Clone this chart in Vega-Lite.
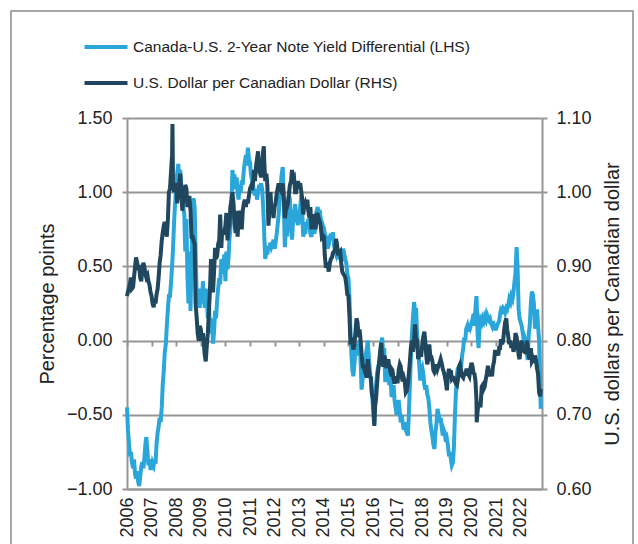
{
"$schema":"https://vega.github.io/schema/vega-lite/v6.json",
"width":415,"height":371,
"autosize":"none",
"padding":{"left":127,"top":118,"right":96,"bottom":55},
"background":"white",
"config":{"font":"Liberation Sans","view":{"stroke":null}},
"data":{"values":[
{"d":"2006-01-01","b":-0.45,"n":0.860},{"d":"2006-01-15","b":-0.60,"n":0.866},{"d":"2006-02-01","b":-0.70,"n":0.872},{"d":"2006-02-15","b":-0.78,"n":0.878},{"d":"2006-03-01","b":-0.75,"n":0.885},{"d":"2006-03-15","b":-0.82,"n":0.870},{"d":"2006-04-01","b":-0.86,"n":0.872},{"d":"2006-04-15","b":-0.80,"n":0.885},{"d":"2006-05-01","b":-0.90,"n":0.900},{"d":"2006-05-15","b":-0.93,"n":0.912},{"d":"2006-06-01","b":-0.88,"n":0.905},{"d":"2006-06-15","b":-0.95,"n":0.895},{"d":"2006-07-01","b":-0.98,"n":0.902},{"d":"2006-07-15","b":-0.92,"n":0.885},{"d":"2006-08-01","b":-0.85,"n":0.880},{"d":"2006-08-15","b":-0.82,"n":0.895},{"d":"2006-09-01","b":-0.86,"n":0.905},{"d":"2006-09-15","b":-0.80,"n":0.900},{"d":"2006-10-01","b":-0.70,"n":0.890},{"d":"2006-10-15","b":-0.65,"n":0.885},{"d":"2006-11-01","b":-0.75,"n":0.888},{"d":"2006-11-15","b":-0.84,"n":0.880},{"d":"2006-12-01","b":-0.80,"n":0.875},{"d":"2006-12-15","b":-0.86,"n":0.866},
{"d":"2007-01-01","b":-0.86,"n":0.860},{"d":"2007-01-15","b":-0.82,"n":0.850},{"d":"2007-02-01","b":-0.84,"n":0.845},{"d":"2007-02-15","b":-0.80,"n":0.855},{"d":"2007-03-01","b":-0.83,"n":0.850},{"d":"2007-03-15","b":-0.70,"n":0.862},{"d":"2007-04-01","b":-0.62,"n":0.870},{"d":"2007-04-15","b":-0.58,"n":0.885},{"d":"2007-05-01","b":-0.52,"n":0.905},{"d":"2007-05-15","b":-0.55,"n":0.915},{"d":"2007-06-01","b":-0.45,"n":0.935},{"d":"2007-06-15","b":-0.30,"n":0.945},{"d":"2007-07-01","b":-0.20,"n":0.955},{"d":"2007-07-15","b":-0.08,"n":0.960},{"d":"2007-08-01","b":-0.02,"n":0.950},{"d":"2007-08-15","b":0.10,"n":0.940},{"d":"2007-09-01","b":0.22,"n":0.965},{"d":"2007-09-15","b":0.30,"n":1.000},{"d":"2007-10-01","b":0.30,"n":1.005},{"d":"2007-10-15","b":0.38,"n":1.025},{"d":"2007-11-01","b":0.50,"n":1.050},{"d":"2007-11-07","b":0.55,"n":1.092},{"d":"2007-11-15","b":0.62,"n":1.010},{"d":"2007-12-01","b":0.80,"n":1.000},{"d":"2007-12-15","b":0.92,"n":1.010},
{"d":"2008-01-01","b":1.02,"n":1.010},{"d":"2008-01-15","b":1.12,"n":0.985},{"d":"2008-02-01","b":1.19,"n":1.000},{"d":"2008-02-15","b":1.10,"n":1.010},{"d":"2008-03-01","b":1.15,"n":1.025},{"d":"2008-03-15","b":1.05,"n":1.005},{"d":"2008-04-01","b":0.98,"n":0.975},{"d":"2008-04-15","b":0.90,"n":0.990},{"d":"2008-05-01","b":0.85,"n":0.990},{"d":"2008-05-15","b":0.60,"n":1.010},{"d":"2008-06-01","b":0.82,"n":1.005},{"d":"2008-06-15","b":0.45,"n":0.980},{"d":"2008-07-01","b":0.25,"n":0.990},{"d":"2008-07-15","b":0.60,"n":0.995},{"d":"2008-08-01","b":0.20,"n":0.975},{"d":"2008-08-15","b":0.55,"n":0.940},{"d":"2008-09-01","b":0.80,"n":0.940},{"d":"2008-09-15","b":0.96,"n":0.935},{"d":"2008-10-01","b":0.90,"n":0.930},{"d":"2008-10-15","b":0.60,"n":0.850},{"d":"2008-11-01","b":0.30,"n":0.830},{"d":"2008-11-15","b":0.25,"n":0.810},{"d":"2008-12-01","b":0.35,"n":0.800},{"d":"2008-12-15","b":0.22,"n":0.820},
{"d":"2009-01-01","b":0.35,"n":0.815},{"d":"2009-01-15","b":0.25,"n":0.800},{"d":"2009-02-01","b":0.40,"n":0.810},{"d":"2009-02-15","b":0.30,"n":0.795},{"d":"2009-03-01","b":0.22,"n":0.780},{"d":"2009-03-15","b":0.35,"n":0.772},{"d":"2009-04-01","b":0.28,"n":0.795},{"d":"2009-04-15","b":0.15,"n":0.810},{"d":"2009-05-01","b":0.25,"n":0.840},{"d":"2009-05-15","b":0.10,"n":0.865},{"d":"2009-06-01","b":0.05,"n":0.910},{"d":"2009-06-15","b":0.15,"n":0.890},{"d":"2009-07-01","b":-0.02,"n":0.865},{"d":"2009-07-15","b":0.05,"n":0.890},{"d":"2009-08-01","b":0.20,"n":0.925},{"d":"2009-08-15","b":0.15,"n":0.910},{"d":"2009-09-01","b":0.28,"n":0.915},{"d":"2009-09-15","b":0.35,"n":0.930},{"d":"2009-10-01","b":0.42,"n":0.935},{"d":"2009-10-15","b":0.38,"n":0.970},{"d":"2009-11-01","b":0.55,"n":0.925},{"d":"2009-11-15","b":0.45,"n":0.950},{"d":"2009-12-01","b":0.50,"n":0.945},{"d":"2009-12-15","b":0.58,"n":0.945},
{"d":"2010-01-01","b":0.40,"n":0.955},{"d":"2010-01-15","b":0.60,"n":0.972},{"d":"2010-02-01","b":0.48,"n":0.935},{"d":"2010-02-15","b":0.55,"n":0.950},{"d":"2010-03-01","b":0.68,"n":0.955},{"d":"2010-03-15","b":0.75,"n":0.980},{"d":"2010-04-01","b":0.92,"n":0.990},{"d":"2010-04-15","b":1.15,"n":1.000},{"d":"2010-05-01","b":1.05,"n":0.985},{"d":"2010-05-15","b":1.12,"n":0.960},{"d":"2010-06-01","b":1.02,"n":0.945},{"d":"2010-06-15","b":1.10,"n":0.975},{"d":"2010-07-01","b":1.00,"n":0.940},{"d":"2010-07-15","b":0.95,"n":0.965},{"d":"2010-08-01","b":1.05,"n":0.975},{"d":"2010-08-15","b":1.00,"n":0.960},{"d":"2010-09-01","b":1.08,"n":0.950},{"d":"2010-09-15","b":1.05,"n":0.975},{"d":"2010-10-01","b":1.15,"n":0.985},{"d":"2010-10-15","b":1.20,"n":0.990},{"d":"2010-11-01","b":1.25,"n":0.980},{"d":"2010-11-15","b":1.18,"n":0.990},{"d":"2010-12-01","b":1.30,"n":0.985},{"d":"2010-12-15","b":1.22,"n":0.995},
{"d":"2011-01-01","b":1.20,"n":1.005},{"d":"2011-01-15","b":1.12,"n":1.008},{"d":"2011-02-01","b":1.08,"n":1.003},{"d":"2011-02-15","b":1.05,"n":1.012},{"d":"2011-03-01","b":1.00,"n":1.030},{"d":"2011-03-15","b":0.98,"n":1.015},{"d":"2011-04-01","b":1.02,"n":1.035},{"d":"2011-04-15","b":0.95,"n":1.045},{"d":"2011-05-01","b":1.00,"n":1.055},{"d":"2011-05-15","b":1.05,"n":1.030},{"d":"2011-06-01","b":1.02,"n":1.025},{"d":"2011-06-15","b":1.06,"n":1.020},{"d":"2011-07-01","b":1.02,"n":1.040},{"d":"2011-07-15","b":0.90,"n":1.055},{"d":"2011-07-25","b":0.80,"n":1.062},{"d":"2011-08-01","b":0.70,"n":1.040},{"d":"2011-08-15","b":0.55,"n":1.015},{"d":"2011-09-01","b":0.60,"n":1.025},{"d":"2011-09-15","b":0.58,"n":1.010},{"d":"2011-10-01","b":0.64,"n":0.955},{"d":"2011-10-15","b":0.62,"n":0.975},{"d":"2011-11-01","b":0.66,"n":1.000},{"d":"2011-11-15","b":0.63,"n":0.975},{"d":"2011-12-01","b":0.65,"n":0.980},{"d":"2011-12-15","b":0.68,"n":0.965},
{"d":"2012-01-01","b":0.62,"n":0.980},{"d":"2012-01-15","b":0.66,"n":0.985},{"d":"2012-02-01","b":0.72,"n":0.998},{"d":"2012-02-15","b":0.78,"n":1.005},{"d":"2012-03-01","b":0.85,"n":1.012},{"d":"2012-03-15","b":0.95,"n":1.005},{"d":"2012-04-01","b":1.05,"n":1.002},{"d":"2012-04-15","b":1.12,"n":1.000},{"d":"2012-05-01","b":1.17,"n":1.012},{"d":"2012-05-15","b":0.95,"n":0.995},{"d":"2012-06-01","b":0.63,"n":0.965},{"d":"2012-06-15","b":0.75,"n":0.975},{"d":"2012-07-01","b":0.70,"n":0.980},{"d":"2012-07-15","b":0.85,"n":0.985},{"d":"2012-08-01","b":0.98,"n":0.998},{"d":"2012-08-15","b":0.95,"n":1.010},{"d":"2012-09-01","b":0.75,"n":1.015},{"d":"2012-09-15","b":0.68,"n":1.030},{"d":"2012-10-01","b":0.80,"n":1.018},{"d":"2012-10-15","b":0.85,"n":1.020},{"d":"2012-11-01","b":0.92,"n":1.000},{"d":"2012-11-15","b":0.85,"n":1.000},{"d":"2012-12-01","b":0.80,"n":1.008},{"d":"2012-12-15","b":0.78,"n":1.015},
{"d":"2013-01-01","b":0.82,"n":1.005},{"d":"2013-01-15","b":0.90,"n":1.012},{"d":"2013-02-01","b":0.98,"n":1.000},{"d":"2013-02-15","b":0.85,"n":0.990},{"d":"2013-03-01","b":0.70,"n":0.970},{"d":"2013-03-15","b":0.74,"n":0.980},{"d":"2013-04-01","b":0.72,"n":0.985},{"d":"2013-04-15","b":0.80,"n":0.980},{"d":"2013-05-01","b":0.76,"n":0.990},{"d":"2013-05-15","b":0.82,"n":0.975},{"d":"2013-06-01","b":0.78,"n":0.965},{"d":"2013-06-15","b":0.72,"n":0.980},{"d":"2013-07-01","b":0.70,"n":0.950},{"d":"2013-07-15","b":0.75,"n":0.965},{"d":"2013-08-01","b":0.80,"n":0.970},{"d":"2013-08-15","b":0.72,"n":0.960},{"d":"2013-09-01","b":0.80,"n":0.950},{"d":"2013-09-15","b":0.87,"n":0.970},{"d":"2013-10-01","b":0.90,"n":0.970},{"d":"2013-10-15","b":0.85,"n":0.965},{"d":"2013-11-01","b":0.88,"n":0.960},{"d":"2013-11-15","b":0.82,"n":0.955},{"d":"2013-12-01","b":0.80,"n":0.940},{"d":"2013-12-15","b":0.78,"n":0.942},
{"d":"2014-01-01","b":0.76,"n":0.940},{"d":"2014-01-15","b":0.72,"n":0.915},{"d":"2014-02-01","b":0.70,"n":0.898},{"d":"2014-02-15","b":0.66,"n":0.905},{"d":"2014-03-01","b":0.62,"n":0.900},{"d":"2014-03-15","b":0.65,"n":0.893},{"d":"2014-04-01","b":0.70,"n":0.905},{"d":"2014-04-15","b":0.72,"n":0.910},{"d":"2014-05-01","b":0.68,"n":0.912},{"d":"2014-05-15","b":0.73,"n":0.918},{"d":"2014-06-01","b":0.65,"n":0.920},{"d":"2014-06-15","b":0.60,"n":0.922},{"d":"2014-07-01","b":0.58,"n":0.937},{"d":"2014-07-15","b":0.62,"n":0.930},{"d":"2014-08-01","b":0.55,"n":0.915},{"d":"2014-08-15","b":0.58,"n":0.918},{"d":"2014-09-01","b":0.60,"n":0.920},{"d":"2014-09-15","b":0.53,"n":0.905},{"d":"2014-10-01","b":0.56,"n":0.893},{"d":"2014-10-15","b":0.62,"n":0.890},{"d":"2014-11-01","b":0.58,"n":0.888},{"d":"2014-11-15","b":0.55,"n":0.885},{"d":"2014-12-01","b":0.52,"n":0.875},{"d":"2014-12-15","b":0.45,"n":0.862},
{"d":"2015-01-01","b":0.42,"n":0.860},{"d":"2015-01-15","b":0.30,"n":0.835},{"d":"2015-02-01","b":0.05,"n":0.795},{"d":"2015-02-15","b":-0.10,"n":0.802},{"d":"2015-03-01","b":-0.20,"n":0.800},{"d":"2015-03-15","b":-0.24,"n":0.788},{"d":"2015-04-01","b":-0.15,"n":0.795},{"d":"2015-04-15","b":-0.05,"n":0.812},{"d":"2015-05-01","b":-0.10,"n":0.830},{"d":"2015-05-15","b":-0.02,"n":0.825},{"d":"2015-06-01","b":-0.05,"n":0.805},{"d":"2015-06-15","b":0.00,"n":0.815},{"d":"2015-07-01","b":-0.15,"n":0.800},{"d":"2015-07-15","b":-0.33,"n":0.782},{"d":"2015-08-01","b":-0.25,"n":0.765},{"d":"2015-08-15","b":-0.22,"n":0.765},{"d":"2015-09-01","b":-0.18,"n":0.758},{"d":"2015-09-15","b":-0.10,"n":0.755},{"d":"2015-10-01","b":-0.05,"n":0.750},{"d":"2015-10-15","b":0.00,"n":0.775},{"d":"2015-11-01","b":-0.12,"n":0.760},{"d":"2015-11-15","b":-0.20,"n":0.752},{"d":"2015-12-01","b":-0.28,"n":0.750},{"d":"2015-12-15","b":-0.35,"n":0.728},
{"d":"2016-01-01","b":-0.45,"n":0.722},{"d":"2016-01-15","b":-0.55,"n":0.695},{"d":"2016-01-20","b":-0.55,"n":0.685},{"d":"2016-02-01","b":-0.40,"n":0.712},{"d":"2016-02-15","b":-0.30,"n":0.722},{"d":"2016-03-01","b":-0.22,"n":0.742},{"d":"2016-03-15","b":-0.18,"n":0.758},{"d":"2016-04-01","b":-0.15,"n":0.770},{"d":"2016-04-15","b":-0.10,"n":0.785},{"d":"2016-05-01","b":-0.02,"n":0.797},{"d":"2016-05-15","b":0.02,"n":0.775},{"d":"2016-06-01","b":-0.10,"n":0.765},{"d":"2016-06-15","b":-0.05,"n":0.780},{"d":"2016-07-01","b":-0.28,"n":0.775},{"d":"2016-07-15","b":-0.20,"n":0.765},{"d":"2016-08-01","b":-0.22,"n":0.765},{"d":"2016-08-15","b":-0.25,"n":0.775},{"d":"2016-09-01","b":-0.30,"n":0.762},{"d":"2016-09-15","b":-0.22,"n":0.758},{"d":"2016-10-01","b":-0.38,"n":0.762},{"d":"2016-10-15","b":-0.35,"n":0.760},{"d":"2016-11-01","b":-0.30,"n":0.748},{"d":"2016-11-15","b":-0.40,"n":0.742},{"d":"2016-12-01","b":-0.45,"n":0.752},{"d":"2016-12-15","b":-0.50,"n":0.745},
{"d":"2017-01-01","b":-0.45,"n":0.745},{"d":"2017-01-15","b":-0.40,"n":0.760},{"d":"2017-02-01","b":-0.48,"n":0.768},{"d":"2017-02-15","b":-0.55,"n":0.765},{"d":"2017-03-01","b":-0.50,"n":0.752},{"d":"2017-03-15","b":-0.55,"n":0.745},{"d":"2017-04-01","b":-0.60,"n":0.750},{"d":"2017-04-15","b":-0.55,"n":0.745},{"d":"2017-05-01","b":-0.60,"n":0.730},{"d":"2017-05-15","b":-0.62,"n":0.732},{"d":"2017-06-01","b":-0.64,"n":0.742},{"d":"2017-06-15","b":-0.50,"n":0.755},{"d":"2017-07-01","b":-0.30,"n":0.772},{"d":"2017-07-15","b":-0.12,"n":0.790},{"d":"2017-08-01","b":0.05,"n":0.800},{"d":"2017-08-15","b":0.15,"n":0.785},{"d":"2017-09-01","b":0.26,"n":0.800},{"d":"2017-09-15","b":0.20,"n":0.822},{"d":"2017-10-01","b":0.22,"n":0.800},{"d":"2017-10-15","b":0.05,"n":0.800},{"d":"2017-11-01","b":-0.05,"n":0.775},{"d":"2017-11-15","b":-0.15,"n":0.785},{"d":"2017-12-01","b":-0.27,"n":0.785},{"d":"2017-12-15","b":-0.20,"n":0.778},
{"d":"2018-01-01","b":-0.18,"n":0.795},{"d":"2018-01-15","b":-0.22,"n":0.805},{"d":"2018-02-01","b":-0.30,"n":0.812},{"d":"2018-02-15","b":-0.33,"n":0.798},{"d":"2018-03-01","b":-0.30,"n":0.780},{"d":"2018-03-15","b":-0.36,"n":0.768},{"d":"2018-04-01","b":-0.39,"n":0.775},{"d":"2018-04-15","b":-0.45,"n":0.795},{"d":"2018-05-01","b":-0.55,"n":0.778},{"d":"2018-05-15","b":-0.60,"n":0.778},{"d":"2018-06-01","b":-0.65,"n":0.772},{"d":"2018-06-15","b":-0.70,"n":0.760},{"d":"2018-07-01","b":-0.73,"n":0.757},{"d":"2018-07-15","b":-0.62,"n":0.760},{"d":"2018-08-01","b":-0.55,"n":0.768},{"d":"2018-08-15","b":-0.46,"n":0.762},{"d":"2018-09-01","b":-0.50,"n":0.767},{"d":"2018-09-15","b":-0.55,"n":0.770},{"d":"2018-10-01","b":-0.52,"n":0.775},{"d":"2018-10-15","b":-0.58,"n":0.770},{"d":"2018-11-01","b":-0.64,"n":0.762},{"d":"2018-11-15","b":-0.60,"n":0.758},{"d":"2018-12-01","b":-0.62,"n":0.752},{"d":"2018-12-15","b":-0.68,"n":0.745},
{"d":"2019-01-01","b":-0.66,"n":0.733},{"d":"2019-01-15","b":-0.70,"n":0.752},{"d":"2019-02-01","b":-0.78,"n":0.762},{"d":"2019-02-15","b":-0.75,"n":0.755},{"d":"2019-03-01","b":-0.80,"n":0.760},{"d":"2019-03-15","b":-0.84,"n":0.748},{"d":"2019-04-01","b":-0.82,"n":0.750},{"d":"2019-04-15","b":-0.72,"n":0.750},{"d":"2019-05-01","b":-0.50,"n":0.745},{"d":"2019-05-15","b":-0.35,"n":0.742},{"d":"2019-06-01","b":-0.22,"n":0.740},{"d":"2019-06-15","b":-0.18,"n":0.748},{"d":"2019-07-01","b":-0.22,"n":0.765},{"d":"2019-07-15","b":-0.15,"n":0.768},{"d":"2019-08-01","b":-0.18,"n":0.760},{"d":"2019-08-15","b":-0.10,"n":0.752},{"d":"2019-09-01","b":-0.05,"n":0.750},{"d":"2019-09-15","b":0.02,"n":0.755},{"d":"2019-10-01","b":0.00,"n":0.755},{"d":"2019-10-15","b":0.08,"n":0.760},{"d":"2019-11-01","b":0.10,"n":0.760},{"d":"2019-11-15","b":0.06,"n":0.755},{"d":"2019-12-01","b":0.11,"n":0.752},{"d":"2019-12-15","b":0.09,"n":0.762},
{"d":"2020-01-01","b":0.12,"n":0.770},{"d":"2020-01-15","b":0.14,"n":0.766},{"d":"2020-02-01","b":0.18,"n":0.756},{"d":"2020-02-15","b":0.10,"n":0.755},{"d":"2020-03-01","b":0.22,"n":0.745},{"d":"2020-03-15","b":0.30,"n":0.720},{"d":"2020-03-19","b":0.25,"n":0.690},{"d":"2020-04-01","b":0.05,"n":0.705},{"d":"2020-04-15","b":-0.05,"n":0.715},{"d":"2020-05-01","b":0.10,"n":0.715},{"d":"2020-05-15","b":0.14,"n":0.710},{"d":"2020-06-01","b":0.12,"n":0.738},{"d":"2020-06-15","b":0.15,"n":0.740},{"d":"2020-07-01","b":0.13,"n":0.735},{"d":"2020-07-15","b":0.16,"n":0.738},{"d":"2020-08-01","b":0.14,"n":0.748},{"d":"2020-08-15","b":0.18,"n":0.755},{"d":"2020-09-01","b":0.16,"n":0.766},{"d":"2020-09-15","b":0.14,"n":0.758},{"d":"2020-10-01","b":0.15,"n":0.752},{"d":"2020-10-15","b":0.12,"n":0.758},{"d":"2020-11-01","b":0.10,"n":0.752},{"d":"2020-11-15","b":0.13,"n":0.765},{"d":"2020-12-01","b":0.10,"n":0.772},{"d":"2020-12-15","b":0.08,"n":0.785},
{"d":"2021-01-01","b":0.08,"n":0.785},{"d":"2021-01-15","b":0.10,"n":0.785},{"d":"2021-02-01","b":0.12,"n":0.780},{"d":"2021-02-15","b":0.13,"n":0.790},{"d":"2021-03-01","b":0.18,"n":0.790},{"d":"2021-03-15","b":0.21,"n":0.802},{"d":"2021-04-01","b":0.20,"n":0.795},{"d":"2021-04-15","b":0.22,"n":0.800},{"d":"2021-05-01","b":0.21,"n":0.815},{"d":"2021-05-15","b":0.19,"n":0.825},{"d":"2021-06-01","b":0.22,"n":0.830},{"d":"2021-06-15","b":0.21,"n":0.815},{"d":"2021-07-01","b":0.24,"n":0.805},{"d":"2021-07-15","b":0.28,"n":0.795},{"d":"2021-08-01","b":0.26,"n":0.800},{"d":"2021-08-15","b":0.30,"n":0.790},{"d":"2021-09-01","b":0.28,"n":0.795},{"d":"2021-09-15","b":0.32,"n":0.785},{"d":"2021-10-01","b":0.40,"n":0.790},{"d":"2021-10-15","b":0.45,"n":0.810},{"d":"2021-11-01","b":0.63,"n":0.805},{"d":"2021-11-15","b":0.50,"n":0.795},{"d":"2021-12-01","b":0.21,"n":0.780},{"d":"2021-12-15","b":0.15,"n":0.775},
{"d":"2022-01-01","b":0.12,"n":0.790},{"d":"2022-01-15","b":0.10,"n":0.800},{"d":"2022-02-01","b":0.05,"n":0.787},{"d":"2022-02-15","b":0.00,"n":0.786},{"d":"2022-03-01","b":0.02,"n":0.788},{"d":"2022-03-15","b":0.00,"n":0.782},{"d":"2022-04-01","b":-0.08,"n":0.800},{"d":"2022-04-15","b":-0.13,"n":0.792},{"d":"2022-05-01","b":0.05,"n":0.778},{"d":"2022-05-15","b":0.10,"n":0.775},{"d":"2022-06-01","b":0.25,"n":0.790},{"d":"2022-06-15","b":0.33,"n":0.772},{"d":"2022-07-01","b":0.31,"n":0.775},{"d":"2022-07-15","b":0.25,"n":0.770},{"d":"2022-08-01","b":0.08,"n":0.780},{"d":"2022-08-15","b":0.15,"n":0.774},{"d":"2022-09-01","b":0.21,"n":0.762},{"d":"2022-09-15","b":0.10,"n":0.755},{"d":"2022-10-01","b":0.00,"n":0.730},{"d":"2022-10-15","b":-0.25,"n":0.725},{"d":"2022-10-25","b":-0.46,"n":0.735}
]},
"layer":[
{"mark":{"type":"line","strokeWidth":4,"color":"#2aa6da"},
 "encoding":{
  "x":{"field":"d","type":"temporal","scale":{"type":"utc","domain":[{"year":2006,"month":1,"date":1,"utc":true},{"year":2022,"month":11,"date":13,"utc":true}]},
   "axis":{"title":null,"orient":"bottom","format":"%Y","tickCount":{"interval":"year","step":1},"labelAngle":270,"labelFontSize":18,"labelColor":"#222","labelPadding":8,"labelOverlap":false,"labelFlush":false,"ticks":false,"grid":false,"domainColor":"#969696","domainWidth":2}},
  "y":{"field":"b","type":"quantitative","scale":{"domain":[-1,1.5],"nice":false,"zero":false},
   "axis":{"title":"Percentage points","titleFontSize":20,"titleFontWeight":"normal","titleColor":"#222","titlePadding":9,"values":[-1,-0.5,0,0.5,1,1.5],"format":".2f","labelFontSize":18,"labelColor":"#222","labelPadding":10,"tickSize":5,"tickWidth":2,"tickColor":"#969696","domainColor":"#969696","domainWidth":2,"grid":true,"gridColor":"#969696","gridWidth":2}},
  "color":{"datum":"Canada-U.S. 2-Year Note Yield Differential (LHS)","type":"nominal",
   "scale":{"domain":["Canada-U.S. 2-Year Note Yield Differential (LHS)","U.S. Dollar per Canadian Dollar (RHS)"],"range":["#2aa6da","#21475e"]},
   "legend":{"orient":"none","legendX":-45,"legendY":-95,"title":null,"symbolType":"stroke","symbolStrokeWidth":4,"symbolSize":1850,"labelFont":"Liberation Sans","labelFontSize":15.5,"labelColor":"#222","labelOffset":3,"rowPadding":3,"padding":0,"labelLimit":0}}
 }},
{"mark":{"type":"line","strokeWidth":4,"color":"#21475e"},
 "encoding":{
  "x":{"field":"d","type":"temporal",
   "axis":{"title":null,"orient":"bottom","offset":-148,"labels":false,"ticks":true,"tickSize":5,"tickWidth":2,"tickColor":"#969696","tickCount":{"interval":"year","step":1},"domain":false,"grid":false}},
  "y":{"field":"n","type":"quantitative","scale":{"domain":[0.6,1.1],"nice":false,"zero":false},
   "axis":{"orient":"right","title":"U.S. dollars per Canadian dollar","titleAngle":270,"titleBaseline":"top","titleFontSize":20,"titleFontWeight":"normal","titleColor":"#222","titlePadding":11,"values":[0.6,0.7,0.8,0.9,1.0,1.1],"format":".2f","labelFontSize":18,"labelColor":"#222","labelPadding":9,"tickSize":5,"tickWidth":2,"tickColor":"#969696","domainColor":"#969696","domainWidth":2,"grid":false}},
  "color":{"datum":"U.S. Dollar per Canadian Dollar (RHS)","type":"nominal"}
 }},
{"transform":[{"filter":"datum.d == '2006-01-01'"}],
 "mark":{"type":"point","opacity":0},
 "encoding":{
  "shape":{"datum":"frame","type":"nominal","scale":{"domain":["frame"],"range":["M-1,-0.9H1V0.9H-1Z"]},
   "legend":{"orient":"none","legendX":-117,"legendY":-139,"title":null,"padding":0,"symbolSize":386884,"symbolFillColor":"transparent","symbolStrokeColor":"#8c8c8c","symbolStrokeWidth":1.5,"symbolOpacity":1,"labelExpr":"''","labelFontSize":1,"labelOffset":0}}
 }}
],
"resolve":{"scale":{"y":"independent"},"axis":{"x":"independent","y":"independent"}}
}
